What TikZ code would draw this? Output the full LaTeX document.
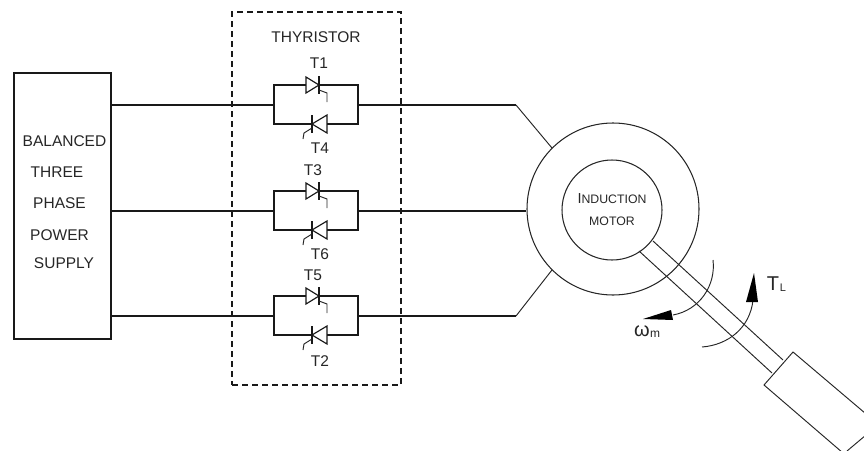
\documentclass[tikz,border=0pt]{standalone}
\usepackage{fontspec}
\setmainfont{Liberation Sans}
\newcommand{\txtsize}[1]{\fontsize{#1}{#1}\selectfont}
\tikzset{
  wire/.style={line width=1.15pt,draw=black!90},
  thin wire/.style={line width=0.95pt,draw=black!85},
  lbl/.style={inner sep=0pt,font=\txtsize{15.5},text=black!85},
  frame/.style={draw=black!90,line width=1.2pt,inner sep=0pt},
  fillhead/.style={fill=black,draw=none}
}
\begin{document}
\begin{tikzpicture}[x=1pt,y=-1pt]
\useasboundingbox (0,0) rectangle (864,450);
\clip (0,0) rectangle (864,450);
% supply
\node[frame,minimum width=97pt,minimum height=266pt] (supply) at (62.5,206) {};
\node[lbl] (s1) at (64.5,141) {BALANCED};
\node[lbl] (s2) at (57,172) {THREE};
\node[lbl] (s3) at (59.5,203) {PHASE};
\node[lbl] (s4) at (59.5,235) {POWER};
\node[lbl] (s5) at (64,263) {SUPPLY};
% dashed enclosure
\node[draw=black!90,line width=1.1pt,dash pattern=on 6pt off 4pt,minimum width=169pt,minimum height=373pt,inner sep=0pt] (enc) at (316.5,198.5) {};
\node[lbl] (thy) at (316,37) {THYRISTOR};
% thyristor pairs
\foreach \i/\yc in {1/105,2/211,3/316}{
  \begin{scope}[shift={(0,\yc)}]
    \coordinate (L\i) at (274,0);
    \coordinate (R\i) at (358,0);
    \draw[wire] (274,0) -- (274,-20) -- (306,-20);
    \draw[wire] (319,-20) -- (358,-20) -- (358,0) ;
    \draw[wire] (358,0) -- (358,19) -- (327,19);
    \draw[wire] (312,19) -- (274,19) -- (274,0);
    \draw[wire,line join=miter] (306,-28) -- (319,-20) -- (306,-12) -- cycle;
    \draw[wire] (319,-29) -- (319,-11);
    \draw[thin wire] (319,-15) -- (327,-12) -- (327,-3);
    \draw[wire,line join=miter] (327,10) -- (312,19) -- (327,28) -- cycle;
    \draw[wire] (312,10) -- (312,28);
    \draw[thin wire] (312,23) -- (304,28) -- (303,34);
  \end{scope}
}
\node[lbl] (t1) at (319,63) {T1};
\node[lbl] (t4) at (320,148) {T4};
\node[lbl] (t3) at (313,170) {T3};
\node[lbl] (t6) at (320,254) {T6};
\node[lbl] (t5) at (313,275) {T5};
\node[lbl] (t2) at (320,361) {T2};
% motor
\node[circle,draw=black!85,line width=1.05pt,minimum size=172pt,inner sep=0pt] (outer) at (613,209) {};
\node[circle,draw=black!85,line width=1.05pt,minimum size=100pt,inner sep=0pt] (inner) at (612,210) {};
\node[lbl,font=\txtsize{12.3}] (m1) at (612,199) {{\txtsize{14.5}I}NDUCTION};
\node[lbl,font=\txtsize{12.3}] (m2) at (612,221) {MOTOR};
% wires
\coordinate (A1) at (516,105);
\coordinate (A3) at (516,316);
\draw[wire] (supply.east |- L1) -- (L1);
\draw[wire] (supply.east |- L2) -- (L2);
\draw[wire] (supply.east |- L3) -- (L3);
\draw[wire] (R1) -- (A1);
\draw[thin wire] (A1) -- (outer.135);
\draw[wire] (R2) -- (outer.west |- R2);
\draw[wire] (R3) -- (A3);
\draw[thin wire] (A3) -- (outer.225);
% shaft
\coordinate (sa) at (653,241);
\coordinate (sb) at (783,360);
\coordinate (sc) at (639,251);
\coordinate (sd) at (772,373);
\draw[thin wire] (sa) -- (sb);
\draw[thin wire] (sc) -- (sd);
% load
\coordinate (la) at (793,352);
\coordinate (lb) at (764,385);
\draw[thin wire] (872,419) -- (la) -- (lb) -- (843,453);
\draw[thin wire] (847,451) -- (866,435);
% omega arrow
\coordinate (w0) at (713,260);
\coordinate (w1) at (673,315);
\coordinate (w2) at (643,319);
\draw[thin wire] (w0) .. controls (716,285) and (700,310) .. (w1);
\fill[fillhead] (w2) -- (671,310) -- (673,320) -- cycle;
% torque arrow
\coordinate (q0) at (702,347);
\coordinate (q1) at (753,300);
\coordinate (q2) at (754,273);
\draw[thin wire] (q0) .. controls (728,345) and (750,328) .. (q1);
\fill[fillhead] (q2) -- (746,302) -- (758,302) -- cycle;
\node[lbl,font=\txtsize{20}] (tl) at (773,284) {T};
\node[lbl,font=\txtsize{11}] (tls) at (783,288) {L};
\node[lbl,font=\txtsize{20}] (om) at (642,331) {ω};
\node[lbl,font=\txtsize{12}] (oms) at (655,334) {m};
\end{tikzpicture}
\end{document}
